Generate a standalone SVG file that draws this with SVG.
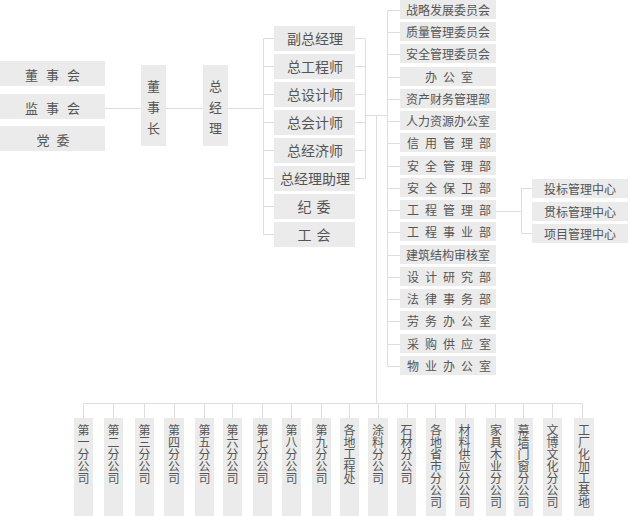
<svg xmlns="http://www.w3.org/2000/svg" width="630" height="516" viewBox="0 0 630 516">
<style>
.b{fill:#ebebeb}
.t{font-family:"Noto Sans CJK SC","Noto Sans",sans-serif;fill:#555;text-anchor:middle}
.s12{font-size:12px}
.s13{font-size:13px}
.s14{font-size:14px}
.sp{letter-spacing:6px}
.v{font-family:"Noto Sans CJK SC",sans-serif;font-size:12px;fill:#555;writing-mode:vertical-rl;text-anchor:start}
.c{stroke:#dedede;stroke-width:1;fill:none}
</style>
<rect width="630" height="516" fill="#fff"/>
<g id="connectors" class="c">
<path d="M105 108.5H141M166 108.5H203M228 108.5H263.5"/>
<path d="M263.5 38.5V234.5M263.5 38.5H274M263.5 66.5H274M263.5 94.5H274M263.5 122.5H274M263.5 150.5H274M263.5 178.5H274M263.5 206.5H274M263.5 234.5H274"/>
<path d="M355 38.5H365.5M355 66.5H365.5M355 94.5H365.5M355 122.5H365.5M355 150.5H365.5M355 178.5H365.5M365.5 38.5V178.5"/>
<path d="M365.5 115.5H387.5M376.5 115.5V403.5"/>
<path d="M387.5 10.5V366.5"/>
<path d="M387.5 10.5H400M387.5 32.5H400M387.5 54.5H400M387.5 77.5H400M387.5 99.5H400M387.5 121.5H400M387.5 143.5H400M387.5 166.5H400M387.5 188.5H400M387.5 210.5H400M387.5 232.5H400M387.5 255.5H400M387.5 277.5H400M387.5 299.5H400M387.5 321.5H400M387.5 344.5H400M387.5 366.5H400"/>
<path d="M496 211.5H521.5M521.5 188.5V233.5M521.5 188.5H532M521.5 233.5H532"/>
<path d="M83.5 403.5H582.5"/>
<path d="M83.5 403.5V418M113.5 403.5V418M144.5 403.5V418M174.5 403.5V418M204.5 403.5V418M232.5 403.5V418M262.5 403.5V418M291.5 403.5V418M321.5 403.5V418M349.5 403.5V418M378.5 403.5V418M407.5 403.5V418M435.5 403.5V418M465.5 403.5V418M495.5 403.5V418M523.5 403.5V418M552.5 403.5V418M582.5 403.5V418"/>
</g>
<g id="dongshihui"><rect class="b" x="0" y="61" width="105" height="25"/><text class="t s13" x="56.5" y="80" style="letter-spacing:8px">董事会</text></g>
<g id="jianshihui"><rect class="b" x="0" y="94" width="105" height="25"/><text class="t s13" x="56.5" y="113" style="letter-spacing:8px">监事会</text></g>
<g id="dangwei"><rect class="b" x="0" y="126" width="105" height="25"/><text class="t s13" x="56.5" y="145" style="letter-spacing:7px">党委</text></g>
<g id="dongshizhang"><rect class="b" x="141" y="65" width="25" height="81"/>
<text class="t s13" x="153.5" y="91">董</text><text class="t s13" x="153.5" y="112">事</text><text class="t s13" x="153.5" y="133">长</text></g>
<g id="zongjingli"><rect class="b" x="203" y="65" width="25" height="81"/>
<text class="t s13" x="215.5" y="91">总</text><text class="t s13" x="215.5" y="112">经</text><text class="t s13" x="215.5" y="133">理</text></g>
<g id="fuzongjingli"><rect class="b" x="274" y="26" width="81" height="25"/><text class="t s14" x="315" y="43.5">副总经理</text></g>
<g id="zonggongchengshi"><rect class="b" x="274" y="54" width="81" height="25"/><text class="t s14" x="315" y="71.5">总工程师</text></g>
<g id="zongshejishi"><rect class="b" x="274" y="82" width="81" height="25"/><text class="t s14" x="315" y="99.5">总设计师</text></g>
<g id="zongkuaijishi"><rect class="b" x="274" y="110" width="81" height="25"/><text class="t s14" x="315" y="127.5">总会计师</text></g>
<g id="zongjingjishi"><rect class="b" x="274" y="138" width="81" height="25"/><text class="t s14" x="315" y="155.5">总经济师</text></g>
<g id="zongjinglizhuli"><rect class="b" x="274" y="166" width="81" height="25"/><text class="t s14" x="315" y="183.5">总经理助理</text></g>
<g id="jiwei"><rect class="b" x="274" y="194" width="81" height="25"/><text class="t s14" x="316.5" y="211.5" style="letter-spacing:5px">纪委</text></g>
<g id="gonghui"><rect class="b" x="274" y="222" width="81" height="25"/><text class="t s14" x="316.5" y="239.5" style="letter-spacing:5px">工会</text></g>
<g id="d1"><rect class="b" x="400" y="0" width="96" height="19"/><text class="t s12" x="448" y="15">战略发展委员会</text></g>
<g id="d2"><rect class="b" x="400" y="22" width="96" height="19"/><text class="t s12" x="448" y="37">质量管理委员会</text></g>
<g id="d3"><rect class="b" x="400" y="44" width="96" height="19"/><text class="t s12" x="448" y="59">安全管理委员会</text></g>
<g id="d4"><rect class="b" x="400" y="67" width="96" height="19"/><text class="t s12 sp" x="452" y="82">办公室</text></g>
<g id="d5"><rect class="b" x="400" y="89" width="96" height="19"/><text class="t s12" x="448" y="104">资产财务管理部</text></g>
<g id="d6"><rect class="b" x="400" y="111" width="96" height="19"/><text class="t s12" x="448" y="126">人力资源办公室</text></g>
<g id="d7"><rect class="b" x="400" y="133" width="96" height="19"/><text class="t s12 sp" x="452" y="148">信用管理部</text></g>
<g id="d8"><rect class="b" x="400" y="156" width="96" height="19"/><text class="t s12 sp" x="452" y="171">安全管理部</text></g>
<g id="d9"><rect class="b" x="400" y="178" width="96" height="19"/><text class="t s12 sp" x="452" y="193">安全保卫部</text></g>
<g id="d10"><rect class="b" x="400" y="200" width="96" height="19"/><text class="t s12 sp" x="452" y="215">工程管理部</text></g>
<g id="d11"><rect class="b" x="400" y="222" width="96" height="19"/><text class="t s12 sp" x="452" y="237">工程事业部</text></g>
<g id="d12"><rect class="b" x="400" y="245" width="96" height="19"/><text class="t s12" x="448" y="260">建筑结构审核室</text></g>
<g id="d13"><rect class="b" x="400" y="267" width="96" height="19"/><text class="t s12 sp" x="452" y="282">设计研究部</text></g>
<g id="d14"><rect class="b" x="400" y="289" width="96" height="19"/><text class="t s12 sp" x="452" y="304">法律事务部</text></g>
<g id="d15"><rect class="b" x="400" y="311" width="96" height="19"/><text class="t s12 sp" x="452" y="326">劳务办公室</text></g>
<g id="d16"><rect class="b" x="400" y="334" width="96" height="19"/><text class="t s12 sp" x="452" y="349">采购供应室</text></g>
<g id="d17"><rect class="b" x="400" y="356" width="96" height="19"/><text class="t s12 sp" x="452" y="371">物业办公室</text></g>
<g id="e1"><rect class="b" x="532" y="179" width="96" height="19"/><text class="t s12" x="580" y="194">投标管理中心</text></g>
<g id="e2"><rect class="b" x="532" y="202" width="96" height="19"/><text class="t s12" x="580" y="217">贯标管理中心</text></g>
<g id="e3"><rect class="b" x="532" y="224" width="96" height="19"/><text class="t s12" x="580" y="239">项目管理中心</text></g>
<g id="f1"><rect class="b" x="74" y="418" width="19" height="98"/><text class="v" x="83.5" y="424">第一分公司</text></g>
<g id="f2"><rect class="b" x="104" y="418" width="19" height="98"/><text class="v" x="113.5" y="424">第二分公司</text></g>
<g id="f3"><rect class="b" x="135" y="418" width="19" height="98"/><text class="v" x="144.5" y="424">第三分公司</text></g>
<g id="f4"><rect class="b" x="164" y="418" width="20" height="98"/><text class="v" x="174" y="424">第四分公司</text></g>
<g id="f5"><rect class="b" x="195" y="418" width="19" height="98"/><text class="v" x="204.5" y="424">第五分公司</text></g>
<g id="f6"><rect class="b" x="223" y="418" width="19" height="98"/><text class="v" x="232.5" y="424">第六分公司</text></g>
<g id="f7"><rect class="b" x="253" y="418" width="19" height="98"/><text class="v" x="262.5" y="424">第七分公司</text></g>
<g id="f8"><rect class="b" x="282" y="418" width="19" height="98"/><text class="v" x="291.5" y="424">第八分公司</text></g>
<g id="f9"><rect class="b" x="312" y="418" width="19" height="98"/><text class="v" x="321.5" y="424">第九分公司</text></g>
<g id="f10"><rect class="b" x="340" y="418" width="19" height="98"/><text class="v" x="349.5" y="424">各地工程处</text></g>
<g id="f11"><rect class="b" x="368" y="418" width="20" height="98"/><text class="v" x="378" y="424">涂料分公司</text></g>
<g id="f12"><rect class="b" x="397" y="418" width="19" height="98"/><text class="v" x="406.5" y="424">石材分公司</text></g>
<g id="f13"><rect class="b" x="426" y="418" width="20" height="98"/><text class="v" x="436" y="424">各地省市分公司</text></g>
<g id="f14"><rect class="b" x="455" y="418" width="19" height="98"/><text class="v" x="464.5" y="424">材料供应分公司</text></g>
<g id="f15"><rect class="b" x="486" y="418" width="20" height="98"/><text class="v" x="496" y="424">家具木业分公司</text></g>
<g id="f16"><rect class="b" x="514" y="418" width="19" height="98"/><text class="v" x="523.5" y="424">幕墙门窗分公司</text></g>
<g id="f17"><rect class="b" x="543" y="418" width="19" height="98"/><text class="v" x="552.5" y="424">文博文化分公司</text></g>
<g id="f18"><rect class="b" x="574" y="418" width="20" height="98"/><text class="v" x="584" y="424">工厂化加工基地</text></g>
</svg>
